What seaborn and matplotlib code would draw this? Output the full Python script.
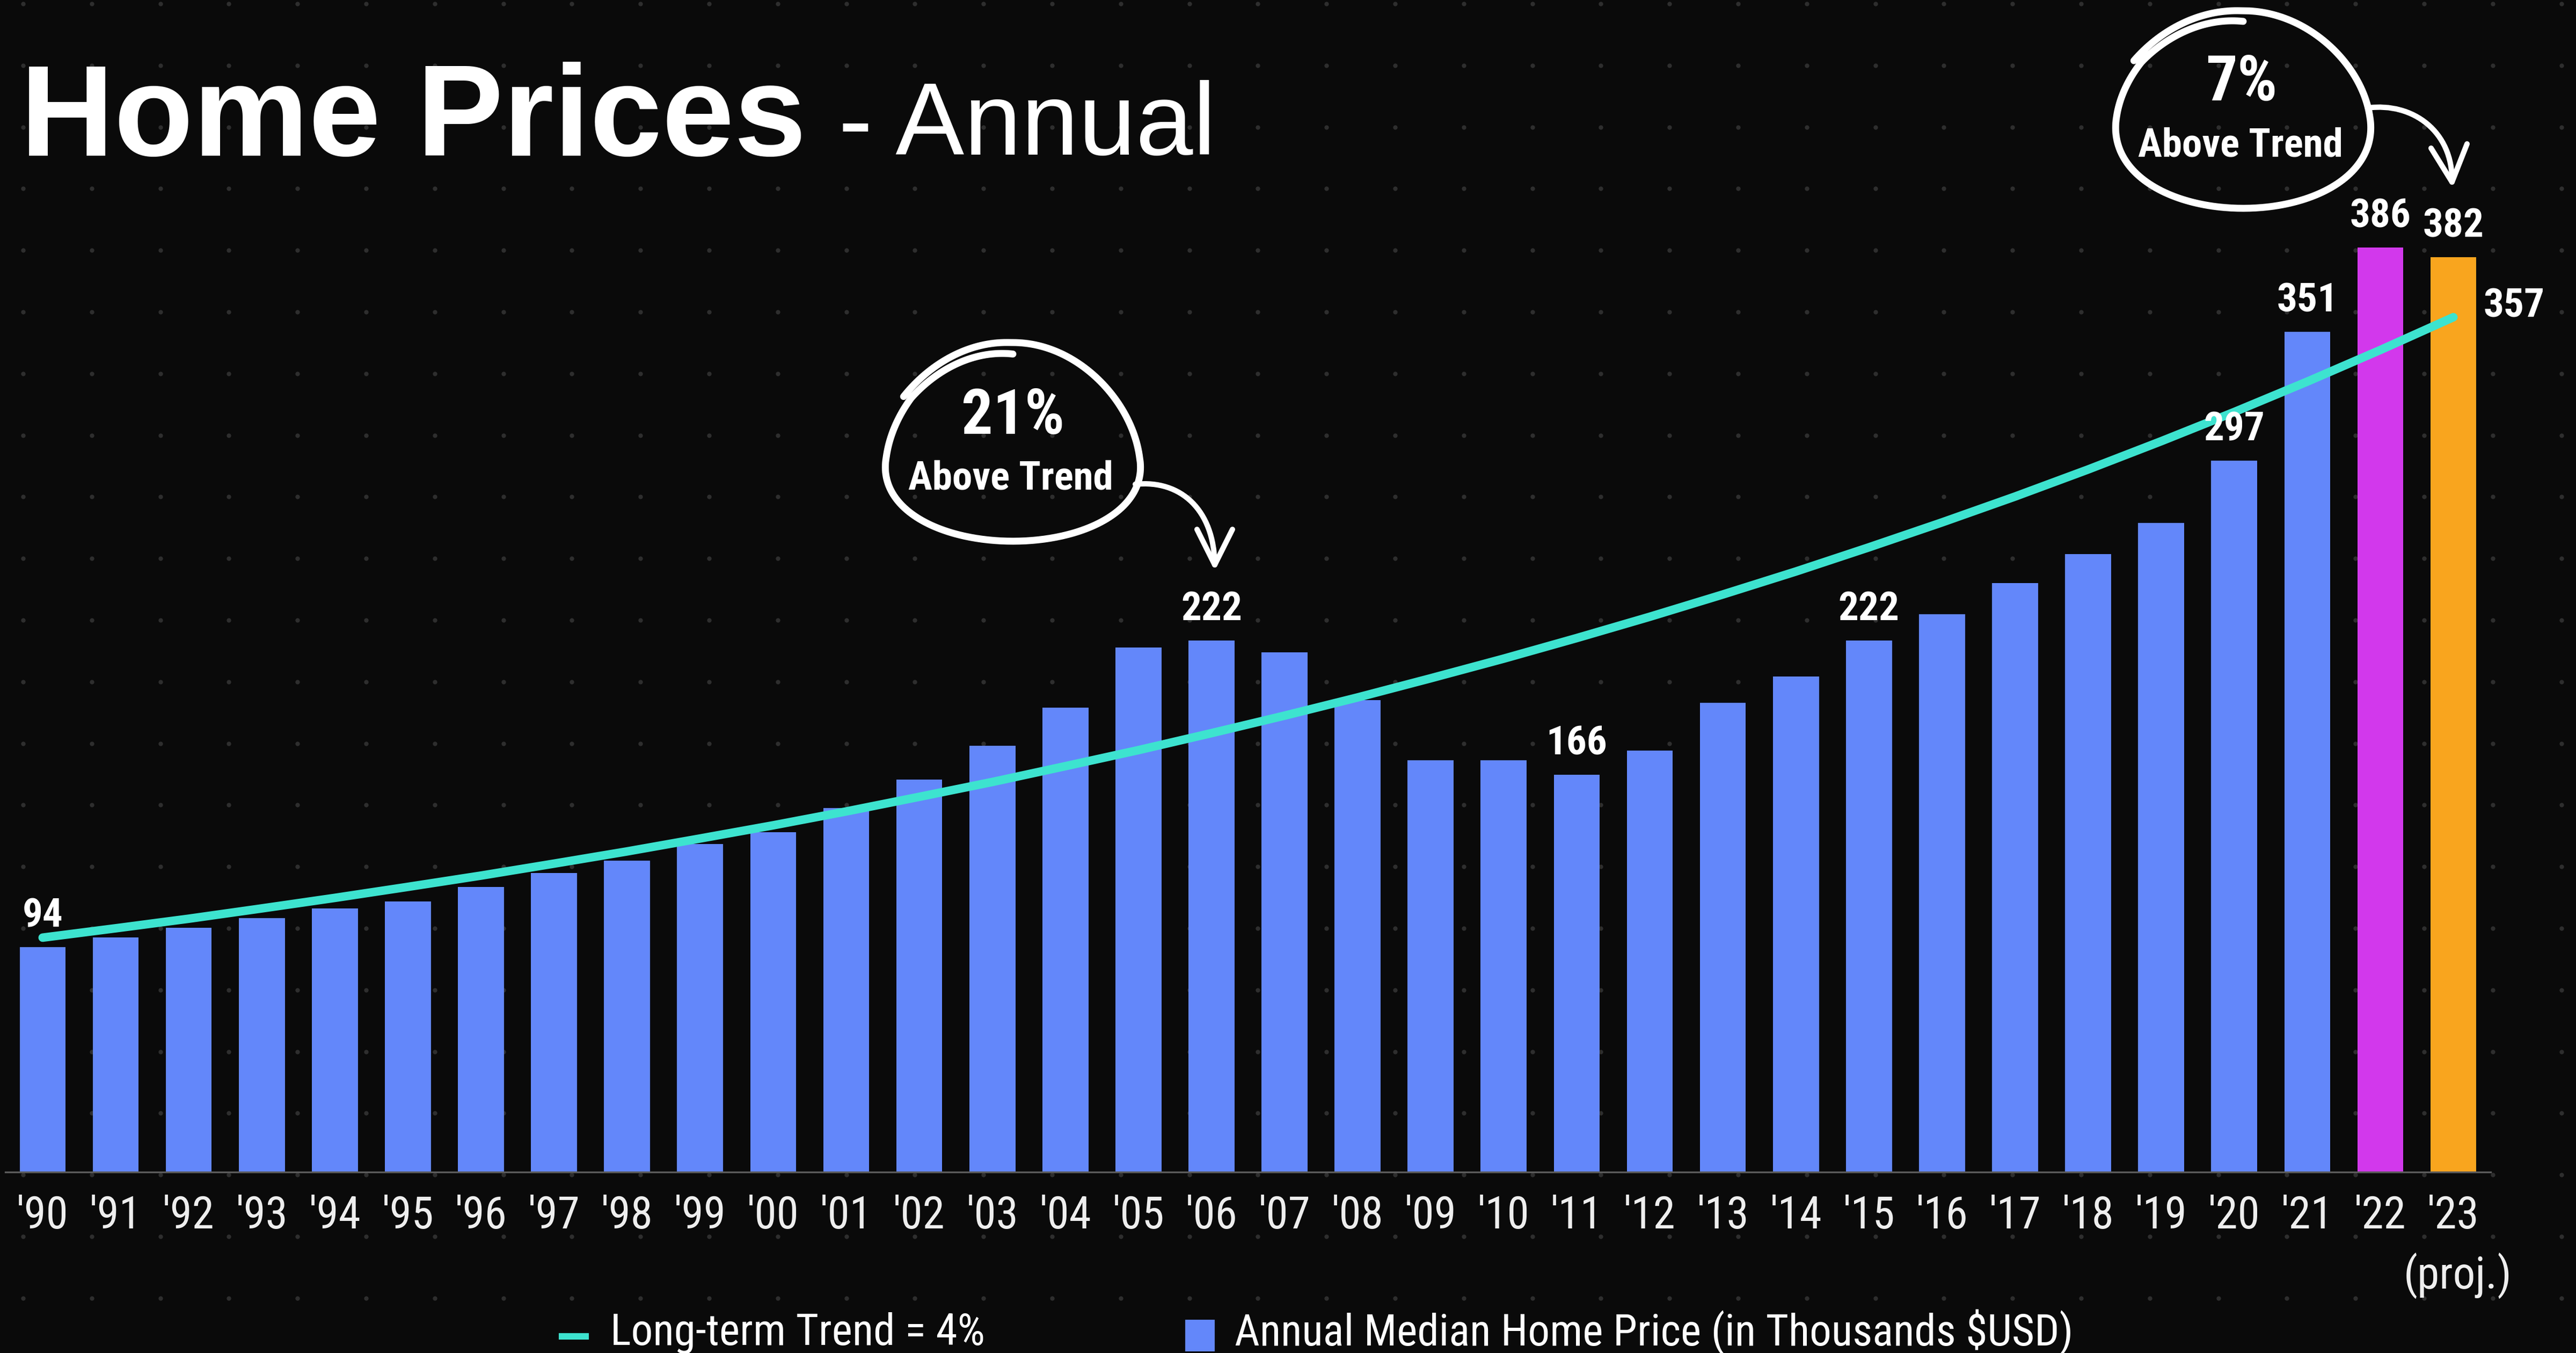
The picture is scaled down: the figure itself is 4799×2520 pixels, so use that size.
import os
import numpy as np
import pandas as pd
import matplotlib
matplotlib.use("Agg")
import matplotlib.pyplot as plt
from matplotlib import font_manager as fm
from matplotlib.path import Path
from matplotlib.patches import PathPatch, Rectangle
import seaborn as sns

# ---------------- data ----------------
years = ["'90", "'91", "'92", "'93", "'94", "'95", "'96", "'97", "'98", "'99",
         "'00", "'01", "'02", "'03", "'04", "'05", "'06", "'07", "'08", "'09",
         "'10", "'11", "'12", "'13", "'14", "'15", "'16", "'17", "'18", "'19",
         "'20", "'21", "'22", "'23"]
prices = [94, 98, 102, 106, 110, 113, 119, 125, 130, 137,
          142, 152, 164, 178, 194, 219, 222, 217, 197, 172,
          172, 166, 176, 196, 207, 222, 233, 246, 258, 271,
          297, 351, 386, 382]
trend = [97.9, 101.8, 105.8, 110.1, 114.5, 119.1, 123.8, 128.8, 133.9, 139.3,
         144.8, 150.6, 156.7, 162.9, 169.5, 176.2, 183.3, 190.6, 198.2, 206.2,
         214.4, 223.0, 231.9, 241.2, 250.8, 260.9, 271.3, 282.1, 293.4, 305.2,
         317.4, 330.1, 343.3, 357.0]
labeled_years = ["'90", "'06", "'11", "'15", "'20", "'21", "'22", "'23"]
projection_note = "(proj.)"
callouts = [("21%", "Above Trend"), ("7%", "Above Trend")]
legend_labels = ["Long-term Trend = 4%", "Annual Median Home Price (in Thousands $USD)"]

# ---------------- style ----------------
BG = "#0a0a0a"
BLUE = "#6387FA"
TREND = "#3DE3CF"
HIGHLIGHT = {"'22": "#D238EC", "'23": "#F9A51E"}
W, H = 4799, 2520
DPI = 300

sns.set_theme(style="white", rc={"figure.facecolor": BG, "axes.facecolor": "none",
                                 "savefig.facecolor": BG})
plt.rcParams["font.family"] = ["Liberation Sans", "DejaVu Sans"]


def narrow_font(bold, size):
    """Pick an installed narrow/condensed sans face."""
    keys = ["LiberationSansNarrow", "ArialNarrow", "RobotoCondensed",
            "NotoSans-Condensed", "OpenSans-Condensed", "OpenSansCondensed",
            "DejaVuSansCondensed"]
    files = sorted({f.fname for f in fm.fontManager.ttflist})
    skip_common = ("Italic", "Oblique")
    for key in keys:
        cands = [p for p in files if key in os.path.basename(p).replace(" ", "")
                 and not any(s in os.path.basename(p) for s in skip_common)]
        if bold:
            sel = [p for p in cands if "Bold" in os.path.basename(p)
                   and not any(s in os.path.basename(p) for s in ("Semi", "Extra", "Ultra"))]
        else:
            sel = [p for p in cands if not any(s in os.path.basename(p) for s in
                   ("Bold", "Light", "Thin", "Black", "Medium", "Semi", "Extra", "Ultra"))]
        if sel:
            return fm.FontProperties(fname=sorted(sel, key=len)[0], size=size)
    return fm.FontProperties(family="Liberation Sans",
                             weight="bold" if bold else "normal", size=size)


fig = plt.figure(figsize=(W / DPI, H / DPI), dpi=DPI)

# background dot grid
bg = fig.add_axes([0, 0, 1, 1], zorder=0)
bg.set_xlim(0, W)
bg.set_ylim(H, 0)
bg.axis("off")
gx, gy = np.meshgrid(np.arange(43, W, 127.8), np.arange(7, H, 114.8))
bg.scatter(gx.ravel(), gy.ravel(), s=4, color="#2e2e2e", linewidths=0)

# main chart axes
ax_left, ax_right, ax_top, ax_bottom = 10, 4640, 399, 2183
ax = fig.add_axes([ax_left / W, 1 - ax_bottom / H,
                   (ax_right - ax_left) / W, (ax_bottom - ax_top) / H], zorder=1)
ax.set_facecolor("none")

df = pd.DataFrame({"year": years, "pos": np.arange(len(years), dtype=float),
                   "price": prices, "trend": trend})
bar_colors = [HIGHLIGHT.get(y, BLUE) for y in years]

sns.barplot(data=df, x="pos", y="price", hue="year", palette=bar_colors,
            native_scale=True, width=0.63, saturation=1, legend=False,
            errorbar=None, ax=ax, zorder=2, linewidth=0, edgecolor="none")
sns.lineplot(data=df, x="pos", y="trend", color=TREND, lw=3.8, ax=ax,
             zorder=4, solid_capstyle="round")

ax.set_xlim(-0.51, len(years) - 0.49)
ax.set_ylim(0, 400)
ax.set_xlabel("")
ax.set_ylabel("")
ax.set_yticks([])
ax.set_xticks(df["pos"])
fp_tick = narrow_font(False, 20)
ax.set_xticklabels(years, fontproperties=fp_tick, color="#eeeeee")
ax.tick_params(axis="x", length=0, pad=10)
for side in ("top", "left", "right"):
    ax.spines[side].set_visible(False)
ax.spines["bottom"].set_color("#5a5a5a")
ax.spines["bottom"].set_linewidth(0.8)

# projection note under the last year
ax.annotate(projection_note, (len(years) - 1, 0), xytext=(2, -36),
            textcoords="offset points", ha="center", va="top",
            fontproperties=fp_tick, color="#eeeeee", annotation_clip=False)

# value labels
fp_val = narrow_font(True, 18)
for yr in labeled_years:
    i = years.index(yr)
    ax.annotate(f"{prices[i]}", (i, prices[i]), xytext=(0, 9),
                textcoords="offset points", ha="center", va="baseline",
                fontproperties=fp_val, color="white", zorder=6)
ax.annotate(f"{trend[-1]:.0f}", (len(years) - 1, trend[-1]), xytext=(13.5, 0),
            textcoords="offset points", ha="left", va="baseline",
            fontproperties=fp_val, color="white", zorder=6)

# foreground: title, callouts, legend
fg = fig.add_axes([0, 0, 1, 1], zorder=3)
fg.set_xlim(0, W)
fg.set_ylim(H, 0)
fg.axis("off")

fg.text(38, 290, "Home Prices", color="white", ha="left", va="baseline",
        fontproperties=fm.FontProperties(family="Liberation Sans", weight="bold", size=58))
fg.text(1562, 288, "- Annual", color="white", ha="left", va="baseline",
        fontproperties=fm.FontProperties(family="Liberation Sans", weight="normal", size=46))


def sketch_loop(axis, cx, cy, rx, ry_top, ry_bot, lw=3.1):
    t = np.linspace(np.radians(150), np.radians(150 - 420), 500)
    u = np.linspace(0, 1, t.size)
    s = np.interp(u, [0, 0.14, 0.86, 1], [1.06, 1.0, 1.0, 0.9])
    ry = np.where(np.sin(t) > 0, ry_top, ry_bot)
    x = cx + rx * s * np.cos(t) * (1 - 0.12 * np.sin(t))
    y = cy - s * ry * np.sin(t)
    axis.plot(x, y, color="white", lw=lw, solid_capstyle="round")


def sketch_arrow(axis, p0, c1, c2, tip, left, right, lw=2.4):
    path = Path([p0, c1, c2, tip], [Path.MOVETO, Path.CURVE4, Path.CURVE4, Path.CURVE4])
    axis.add_patch(PathPatch(path, fill=False, ec="white", lw=lw, capstyle="round"))
    axis.plot([left[0], tip[0], right[0]], [left[1], tip[1], right[1]],
              color="white", lw=lw, solid_capstyle="round", solid_joinstyle="round")


fp_big = narrow_font(True, 28)
fp_mid = narrow_font(True, 18)

# 2006 callout
sketch_loop(fg, 1887, 852, 236, 214, 156)
fg.text(1887, 808, callouts[0][0], color="white", ha="center", va="baseline", fontproperties=fp_big)
fg.text(1883, 912, callouts[0][1], color="white", ha="center", va="baseline", fontproperties=fp_mid)
sketch_arrow(fg, (2115, 902), (2200, 893), (2262, 950), (2263, 1052), (2230, 986), (2296, 986))

# 2023 callout
sketch_loop(fg, 4179, 218, 236, 198, 170)
fg.text(4176, 187, callouts[1][0], color="white", ha="center", va="baseline", fontproperties=fp_big)
fg.text(4174, 292, callouts[1][1], color="white", ha="center", va="baseline", fontproperties=fp_mid)
sketch_arrow(fg, (4411, 201), (4495, 190), (4570, 245), (4568, 339), (4529, 276), (4596, 268))

# legend
fp_leg = narrow_font(False, 19.5)
fg.add_patch(Rectangle((1041, 2483), 56, 12, color=TREND, lw=0))
fg.text(1137, 2505, legend_labels[0], color="white", ha="left", va="baseline", fontproperties=fp_leg)
fg.add_patch(Rectangle((2208, 2458), 55, 59, color=BLUE, lw=0))
fg.text(2300, 2506, legend_labels[1], color="white", ha="left", va="baseline", fontproperties=fp_leg)

fig.savefig("out.png", dpi=DPI, facecolor=BG)
